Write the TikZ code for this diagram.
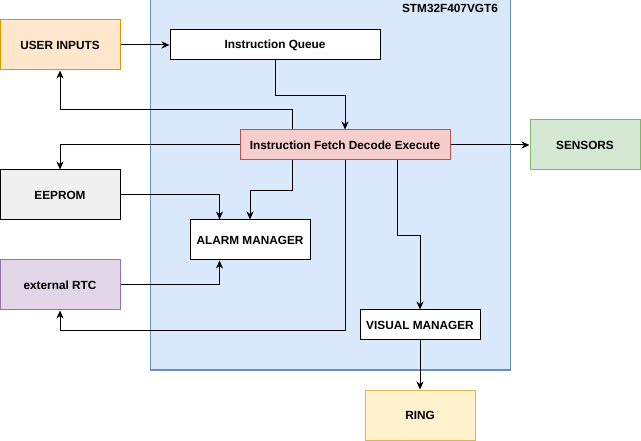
\documentclass[tikz,border=0pt]{standalone}
\usepackage{fontspec}
\setmainfont{Liberation Sans}
\usetikzlibrary{arrows.meta, calc}

\definecolor{chipfill}{HTML}{DAE8FC}
\definecolor{chipline}{HTML}{6C8EBF}
\definecolor{userfill}{HTML}{FFE6CC}
\definecolor{userline}{HTML}{D79B00}
\definecolor{fdefill}{HTML}{F8CECC}
\definecolor{fdeline}{HTML}{B85450}
\definecolor{sensfill}{HTML}{D5E8D4}
\definecolor{sensline}{HTML}{82B366}
\definecolor{rtcfill}{HTML}{E1D5E7}
\definecolor{rtcline}{HTML}{9673A6}
\definecolor{ringfill}{HTML}{FFF2CC}
\definecolor{ringline}{HTML}{D6B656}

\begin{document}
\begin{tikzpicture}[x=1pt,y=-1pt]
        \tikzset{box/.style={draw, line width=1pt, inner sep=0pt,
                font=\fontsize{11.8}{14}\selectfont\bfseries},
            conn/.style={line width=1pt, -{Stealth[length=8pt,width=7pt,inset=2.5pt]}}}

        \useasboundingbox (0, 0) rectangle (641, 441);

        \draw[line width=1pt, draw=chipline, fill=chipfill] (150, 0) rectangle (510, 370);
        \node[font=\fontsize{11.8}{14}\selectfont\bfseries] (chiplabel) at (450, 8) {STM32F407VGT6};

        \node[box, fill=userfill, draw=userline, minimum width=120, minimum height=50] (user) at (60, 45) {USER INPUTS};
        \node[box, fill=white, minimum width=210, minimum height=30] (queue) at (275, 45) {Instruction Queue};
        \node[box, fill=fdefill, draw=fdeline, minimum width=210, minimum height=30] (fde) at (345, 145) {Instruction Fetch Decode Execute};
        \node[box, fill=sensfill, draw=sensline, minimum width=110, minimum height=50] (sensors) at (585, 145) {SENSORS};
        \node[box, fill=gray!12, minimum width=120, minimum height=50] (eeprom) at (60, 195) {EEPROM};
        \node[box, fill=white, minimum width=120, minimum height=40] (alarm) at (250, 240) {ALARM MANAGER};
        \node[box, fill=rtcfill, draw=rtcline, minimum width=120, minimum height=50] (rtc) at (60, 285) {external RTC};
        \node[box, fill=white, minimum width=120, minimum height=30] (visual) at (420, 325) {VISUAL MANAGER};
        \node[box, fill=ringfill, draw=ringline, minimum width=110, minimum height=50] (ring) at (420, 415) {RING};

        \foreach \from/\to in {user/queue, fde/sensors, visual/ring}
            \draw[conn] (\from) -- (\to);

        \draw[conn] (queue.south) -- ++(0, 35) -| (fde.north);
        \draw[conn] ([xshift=52.5pt]fde.north west) -- ++(0, -20) -| (user.south);
        \draw[conn] (fde.west) -| (eeprom.north);
        \draw[conn] ([xshift=52.5pt]fde.south west) -- ++(0, 30) -| (alarm.north);
        \draw[conn] (eeprom.east) -| ([xshift=30pt]alarm.north west);
        \draw[conn] (rtc.east) -| ([xshift=30pt]alarm.south west);
        \draw[conn] (fde.south) -- ++(0, 170) -| (rtc.south);
        \draw[conn] ([xshift=157.5pt]fde.south west) -- ++(0, 75) -| (visual.north);
    \end{tikzpicture}
\end{document}
